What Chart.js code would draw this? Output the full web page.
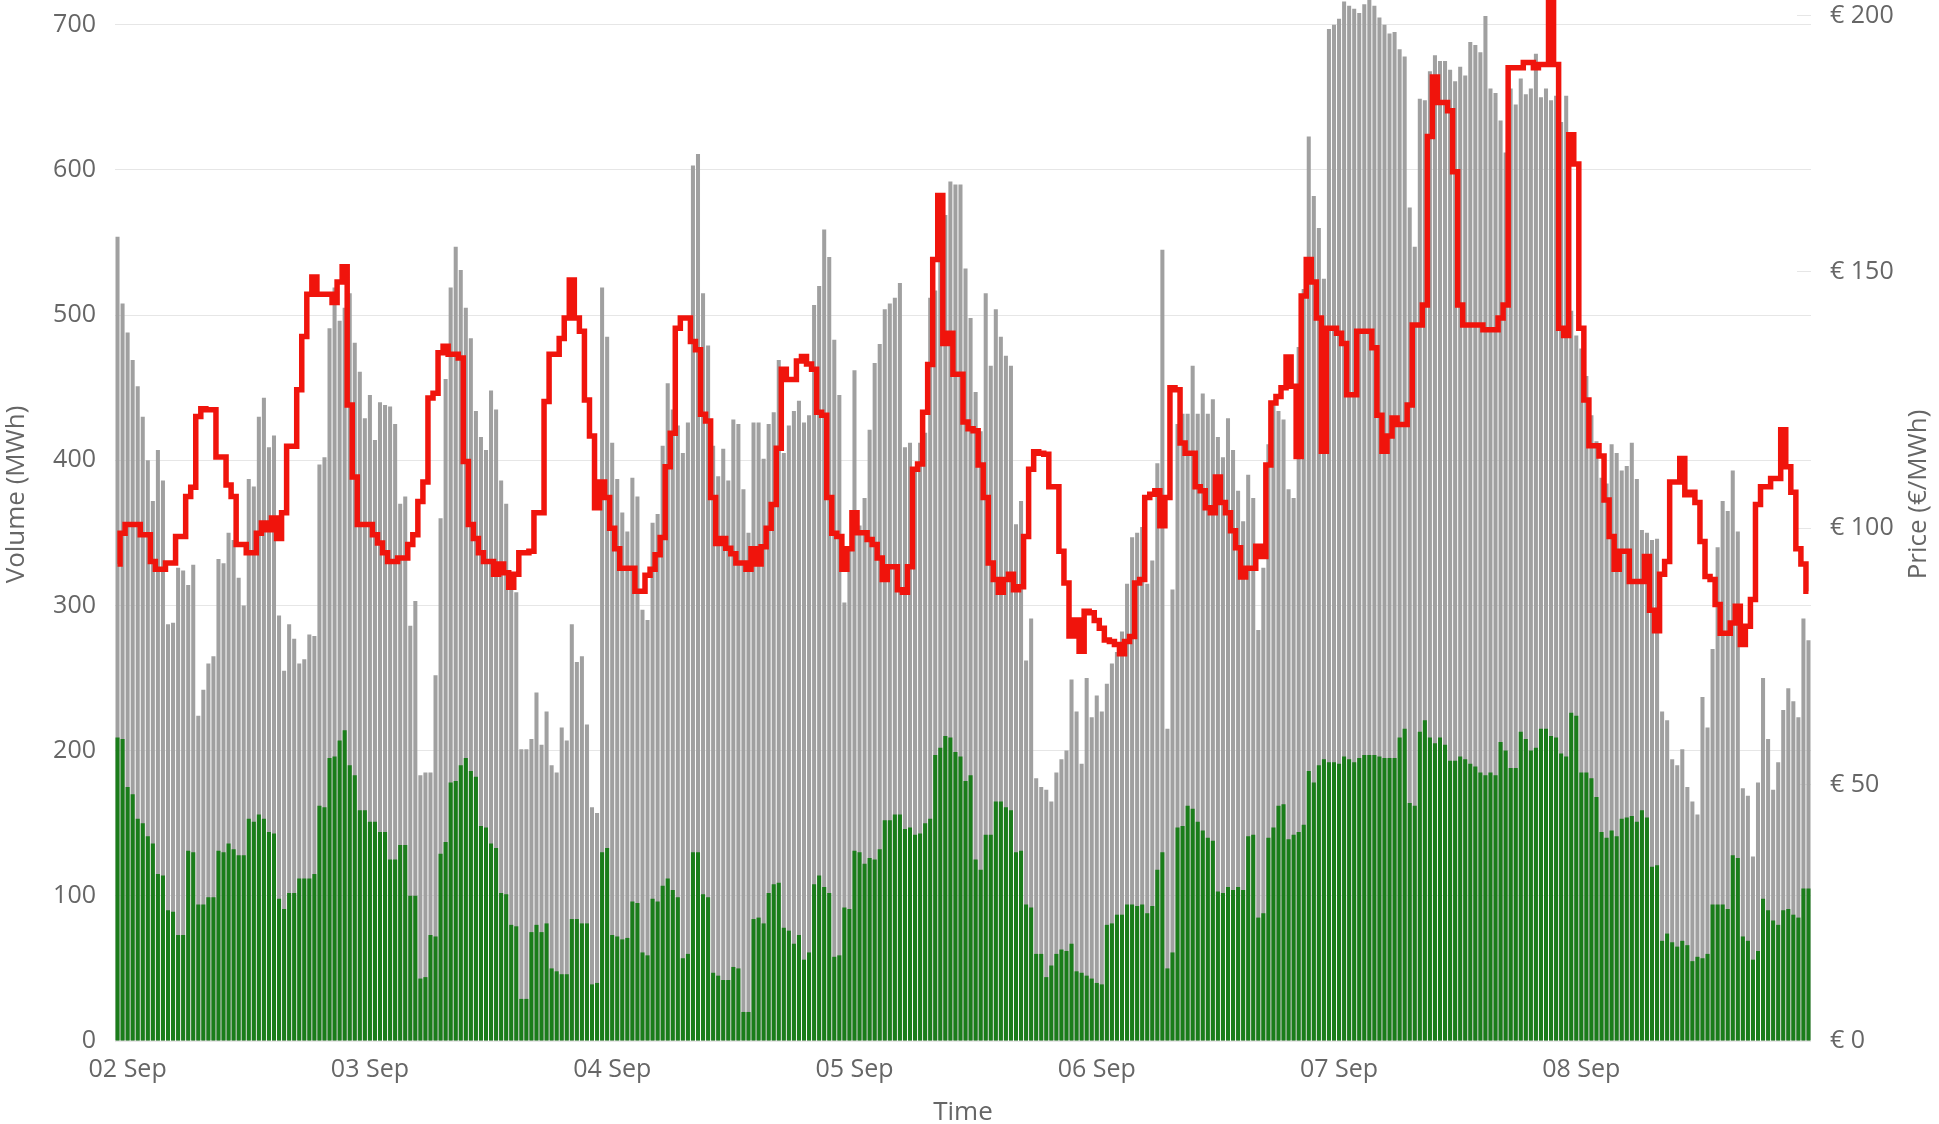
<!DOCTYPE html>
<html><head><meta charset="utf-8">
<script src="https://cdn.jsdelivr.net/npm/chart.js@4.4.0/dist/chart.umd.min.js"></script>
<style>html,body{margin:0;padding:0;background:#fff;}#wrap{width:1939px;height:1124px;position:relative;}</style>
</head><body><div id="wrap"><canvas id="c"></canvas></div>
<script>
const dayLabels = ['02 Sep','03 Sep','04 Sep','05 Sep','06 Sep','07 Sep','08 Sep'];
const volumeTitle = 'Volume (MWh)';
const priceTitle = 'Price (€/MWh)';
const timeTitle = 'Time';

// total volume per half hour (MWh), 01 Sep 23:00 .. 08 Sep 22:30
const totalVolume = [
554,508,488,469,451,430,400,372,407,386,287,288,326,324,314,328,224,242,260,265,
332,329,350,345,319,300,387,382,430,443,409,417,293,255,287,277,260,263,280,279,
397,402,491,519,496,505,515,481,461,429,445,414,440,438,437,425,370,375,286,303,
183,185,185,252,360,456,519,547,531,505,484,434,416,407,448,435,386,370,314,309,
201,201,208,240,
204,227,190,185,216,207,287,261,265,218,161,157,519,485,412,387,364,351,388,375,
297,290,357,363,410,453,435,424,405,426,603,611,515,479,410,389,408,386,428,425,
380,350,426,426,401,425,433,469,405,424,434,441,426,431,507,520,559,540,483,445,
302,340,462,355,374,421,467,480,504,508,512,522,409,412,393,412,419,512,517,559,
569,592,590,590,
532,498,447,420,515,465,504,485,472,465,356,372,262,291,181,175,173,165,185,194,
200,249,227,191,250,223,238,227,246,260,268,282,315,347,350,354,315,331,398,545,
215,311,425,432,432,465,432,446,432,442,416,402,429,407,379,358,390,374,283,326,
411,440,434,428,380,374,478,518,623,582,560,525,697,700,704,716,713,711,708,714,
718,713,705,700,
694,695,683,678,574,547,649,648,668,679,675,675,669,661,671,665,688,686,681,706,
656,653,634,612,656,645,663,652,656,680,650,656,648,651,633,651,503,486,477,458,
431,413,388,384,411,405,393,396,412,387,352,350,345,346,227,221,194,190,201,175,
165,156,237,216,270,340,372,365,393,351,174,169,127,178,250,208,173,192,228,243,
234,223,291,276
];

// green part of the volume (MWh)
const greenVolume = [
209,208,175,170,153,150,141,136,115,114,90,89,73,73,131,130,94,94,99,99,
131,130,136,132,128,128,153,151,156,153,144,143,98,91,102,102,112,112,112,115,
162,161,195,196,207,214,190,183,159,159,151,151,144,144,125,125,135,135,100,100,
43,44,73,72,129,137,178,179,190,195,186,182,148,147,136,133,102,101,80,79,
29,29,75,80,
75,81,50,48,46,46,84,84,81,81,39,40,130,133,73,72,70,71,96,95,
61,59,98,96,107,112,104,99,57,60,130,130,101,99,47,45,42,42,51,50,
20,20,84,85,81,102,108,109,78,76,67,73,56,61,108,114,106,102,58,59,
92,91,131,130,122,126,125,132,152,152,156,156,146,147,142,143,150,153,197,202,
210,209,199,196,
179,183,125,118,142,142,165,165,161,159,130,131,94,92,60,60,44,52,60,63,
62,67,48,47,45,43,40,39,80,81,87,87,94,94,93,94,88,93,118,130,
50,61,147,148,162,160,151,145,140,138,103,102,106,104,106,104,141,142,85,88,
140,147,162,163,139,142,144,149,186,178,190,194,192,192,191,196,194,192,195,197,
197,197,196,195,
195,195,209,215,164,162,213,221,209,205,209,204,193,193,196,194,191,189,185,183,
185,183,206,200,188,188,213,208,200,202,215,215,210,209,198,196,226,224,185,185,
181,168,144,140,145,141,153,154,155,151,159,154,120,121,69,74,68,65,69,66,
55,58,57,60,94,94,94,91,128,126,72,69,56,62,98,90,83,80,90,91,
87,85,105,105
];

// price per half hour (EUR/MWh)
const price = [
93,99,100.7,100.7,100.7,98.7,98.7,93.5,92,92,93.2,93.2,98.4,98.4,106.2,108,121.8,123.3,123.1,123.1,
113.9,113.9,108.4,106.2,96.8,96.8,95.2,95.2,99,101,99.7,102,98,103,116,116,127,137.4,145.6,149,
145.6,145.6,145.6,144,148,151,124,110,100.7,100.7,100.7,98.7,97.1,95.2,93.5,93.5,94.2,94.2,96.8,98.7,
105.2,109,125.4,126.3,134.2,135.5,133.9,133.9,133.2,113,100.7,98,95.2,93.5,93.5,91,93,91.3,88.5,91,
95.2,95.2,95.5,103,
103,124.7,133.9,133.9,137,141,148.4,141,138.4,125,118,104,109,106,100,96,92.2,92.2,92.2,87.7,
87.7,90.8,92,94.8,98.2,112,118.5,139,141,141,136.4,134.8,122.2,120.9,106,97,98,96.1,95,93.2,
93.2,92,96,93,96.4,100,104.6,115.6,131,129,129,132.6,133.5,132,131,122.6,122,106,99,98.4,
92,96,103,99.1,99.1,97.8,96.8,94.2,90,92.5,92.5,88,87.5,92.5,111.5,112.5,122.6,131.9,152.4,164.9,
136,138,130,130,
120.7,119.4,119,112.3,106,93.2,90,87.5,90,91,88,88.6,98.4,111.5,114.9,114.6,114.4,108.1,108.1,95.5,
89.3,79,82.1,76,83.8,83.5,82,80.5,78.2,77.9,77.3,75.5,77.9,78.9,89.3,90,106,106.6,107.3,100.5,
106,127.4,127,116.6,114.6,114.6,108.1,107.3,104,103,110,105,103,99.5,96.2,90.5,92.2,92.2,96.5,94.5,
112.3,124.4,125.7,127.4,133.4,127.7,114,145.3,152.4,148,141,115,139,139,138,136,126,126,138.4,138.4,
138.4,135.2,122,115,
118,121.5,120.2,120.2,124,139.6,139.6,143.5,176.4,188,183,183,181.4,169.5,143.5,139.6,139.6,139.6,139.6,138.7,
138.7,138.7,141,143.5,189.8,189.8,189.8,190.8,190.8,189.8,190.4,190.4,204,190.4,139,137.6,176.7,171,139,125,
116.1,116.1,114.1,105.5,98.4,92,95.5,95.5,89.6,89.6,89.6,94.5,84,80,91,93.5,109,109,113.6,106.5,
107,105,97.4,90.6,90,85.1,79.5,79.5,81.5,84.8,77.3,80.9,86.1,104.6,108.1,108.1,109.7,109.7,119.2,112,
107,96,93,87.7
];

// half-hour slot labels, first slot 01 Sep 23:00
const categories = [];
for (let i = 0; i < totalVolume.length; i++) {
  const mins = 23 * 60 + 30 * i;
  const day = 1 + Math.floor(mins / 1440);
  const m = mins % 1440;
  const hh = String(Math.floor(m / 60)).padStart(2, '0');
  const mm = String(m % 60).padStart(2, '0');
  categories.push(String(day).padStart(2, '0') + ' Sep ' + hh + ':' + mm);
}
const isMidnight = v => categories[v] && categories[v].endsWith('00:00');

const FONT = '"Open Sans", "Noto Sans", sans-serif';
const FS = 25;
const FT = 26;
const TXT = '#666666';

const axisTitles = {
  id: 'axisTitles',
  afterDraw(chart) {
    const {ctx, chartArea} = chart;
    const cy = (chartArea.top + chartArea.bottom) / 2 - 26;
    ctx.save();
    ctx.font = FT + 'px ' + FONT;
    ctx.fillStyle = TXT;
    ctx.textAlign = 'center';
    ctx.textBaseline = 'middle';
    ctx.save(); ctx.translate(17, cy); ctx.rotate(-Math.PI / 2); ctx.fillText(volumeTitle, 0, 0); ctx.restore();
    ctx.save(); ctx.translate(chart.width - 20, cy); ctx.rotate(-Math.PI / 2); ctx.fillText(priceTitle, 0, 0); ctx.restore();
    ctx.restore();
  }
};

new Chart(document.getElementById('c'), {
  type: 'bar',
  data: {
    labels: categories,
    datasets: [
      { type: 'line', label: 'Price', data: price, yAxisID: 'y1', borderColor: '#f0140c', backgroundColor: '#f0140c',
        borderWidth: 5.5, stepped: 'middle', pointRadius: 0, fill: false, order: 0 },
      { type: 'bar', label: 'Green', data: greenVolume, yAxisID: 'y', backgroundColor: '#1a7d1a',
        grouped: false, categoryPercentage: 1, barPercentage: 0.8, order: 1 },
      { type: 'bar', label: 'Total', data: totalVolume, yAxisID: 'y', backgroundColor: '#a0a0a0',
        grouped: false, categoryPercentage: 1, barPercentage: 0.8, order: 2 }
    ]
  },
  options: {
    responsive: true, maintainAspectRatio: false, animation: false, devicePixelRatio: 1,
    layout: { padding: 0 },
    plugins: { legend: { display: false }, tooltip: { enabled: false } },
    scales: {
      x: {
        type: 'category', offset: true,
        grid: { display: false }, border: { display: false },
        ticks: { autoSkip: false, maxRotation: 0, minRotation: 0, padding: 6, color: TXT, font: { family: FONT, size: FS },
          callback(value) { const d = parseInt(categories[value].slice(0, 2), 10); return dayLabels[d - 2]; } },
        afterBuildTicks(scale) { scale.ticks = scale.ticks.filter(t => isMidnight(t.value)); },
        afterFit(scale) { scale.height = 83; scale.paddingLeft = 0; scale.paddingRight = 0; },
        title: { display: true, text: timeTitle, color: TXT, font: { family: FONT, size: FT }, padding: { top: 0, bottom: -4 } }
      },
      y: {
        position: 'left', min: 0, max: 717,
        ticks: { stepSize: 100, includeBounds: false, padding: 19, color: TXT, font: { family: FONT, size: FS } },
        grid: { color: '#e6e6e6', drawTicks: false }, border: { display: false },
        afterFit(scale) { scale.width = 115; scale.paddingTop = 0; scale.paddingBottom = 0; }
      },
      y1: {
        position: 'right', min: 0, max: 203,
        ticks: { stepSize: 50, includeBounds: false, padding: 33, color: TXT, font: { family: FONT, size: FS },
          callback: v => '€ ' + v },
        grid: { drawOnChartArea: false, drawTicks: true, tickLength: -14, color: '#e6e6e6' }, border: { display: false },
        afterFit(scale) { scale.width = 128; scale.paddingTop = 0; scale.paddingBottom = 0; }
      }
    }
  },
  plugins: [axisTitles]
});
</script></body></html>
